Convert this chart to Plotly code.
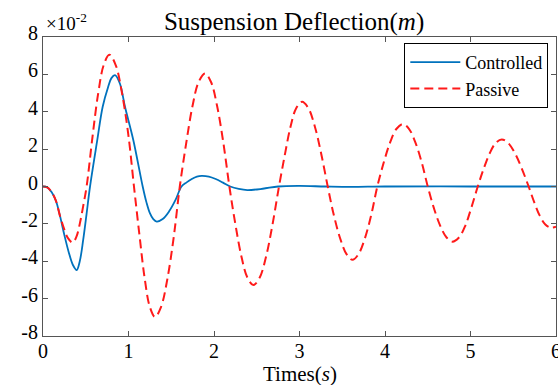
import plotly.graph_objects as go

# ---- data (values in metres, read as multiples of 1e-2) ----
passive_t = [0.00, 0.05, 0.10, 0.15, 0.20, 0.25, 0.29, 0.347, 0.39, 0.43, 0.47, 0.51, 0.58, 0.645, 0.71, 0.776,
             0.85, 0.925, 1.00, 1.064, 1.13, 1.19, 1.25, 1.31, 1.38, 1.455, 1.53, 1.60,
             1.675, 1.7475, 1.82, 1.895, 1.965, 2.0375, 2.11, 2.18, 2.25, 2.32, 2.39, 2.46,
             2.535, 2.61, 2.685, 2.76, 2.83, 2.895, 2.96, 3.03, 3.105, 3.18, 3.255, 3.33,
             3.40, 3.475, 3.55, 3.62, 3.69, 3.765, 3.84, 3.91, 3.985, 4.06, 4.135, 4.21,
             4.28, 4.355, 4.43, 4.50, 4.57, 4.645, 4.72, 4.79, 4.865, 4.94, 5.01, 5.085,
             5.155, 5.225, 5.295, 5.365, 5.44, 5.52, 5.60, 5.68, 5.745, 5.81, 5.875, 5.94, 6.00]
passive_y = [0.0, -0.05, -0.3, -0.75, -1.6, -2.3, -2.75, -3.0, -2.7, -2.0, -1.05, 0.0, 2.7, 4.97, 6.5, 7.05,
             6.5, 4.97, 2.7, 0.0, -2.67, -4.94, -6.45, -6.98, -6.45, -4.94, -2.67, 0.0,
             2.32, 4.28, 5.59, 6.05, 5.59, 4.28, 2.32, 0.0, -2.02, -3.73, -4.87, -5.27,
             -4.87, -3.73, -2.02, 0.0, 1.73, 3.2, 4.18, 4.53, 4.18, 3.2, 1.73, 0.0,
             -1.5, -2.77, -3.62, -3.92, -3.62, -2.77, -1.5, 0.0, 1.28, 2.36, 3.09, 3.34,
             3.09, 2.36, 1.28, 0.0, -1.13, -2.09, -2.73, -2.95, -2.73, -2.09, -1.13, 0.0,
             0.96, 1.78, 2.33, 2.52, 2.33, 1.78, 0.96, 0.0, -0.84, -1.56, -2.03, -2.2, -2.15]

controlled_t = [0.00, 0.05, 0.10, 0.15, 0.20, 0.25, 0.30, 0.35, 0.394, 0.43, 0.47, 0.51, 0.55, 0.635, 0.698,
                0.76, 0.80, 0.842, 0.90, 0.959, 1.056, 1.166, 1.21, 1.25, 1.29, 1.33, 1.40,
                1.475, 1.55, 1.62, 1.68, 1.74, 1.80, 1.856, 1.94, 2.02, 2.10, 2.19, 2.29, 2.39,
                2.57, 2.75, 3.0, 3.3, 3.6, 4.0, 5.0, 6.0]
controlled_y = [0.0, -0.05, -0.3, -0.75, -1.6, -2.6, -3.5, -4.2, -4.47, -4.0, -2.86, -1.45, 0.0, 2.49, 4.27,
                5.3, 5.8, 5.96, 5.5, 4.27, 2.49, 0.0, -0.85, -1.43, -1.75, -1.88, -1.74,
                -1.33, -0.72, 0.0, 0.22, 0.40, 0.53, 0.57, 0.53, 0.40, 0.22, 0.0, -0.13, -0.19,
                -0.12, 0.0, 0.03, 0.0, -0.02, 0.0, 0.0, 0.0]

y_ticks = [-0.08, -0.06, -0.04, -0.02, 0.0, 0.02, 0.04, 0.06, 0.08]
y_tick_labels = ["-8", "-6", "-4", "-2", "0", "2", "4", "6", "8"]
x_ticks = [0, 1, 2, 3, 4, 5, 6]

scale = 0.01
fig = go.Figure()
fig.add_trace(go.Scatter(
    x=controlled_t, y=[v * scale for v in controlled_y], mode="lines", name="Controlled",
    line=dict(color="#0072BD", width=1.8, shape="spline", smoothing=1.0)))
fig.add_trace(go.Scatter(
    x=passive_t, y=[v * scale for v in passive_y], mode="lines", name="Passive",
    line=dict(color="#FF1A1A", width=2, dash="9px,5px", shape="spline", smoothing=1.0)))

font_family = "Liberation Serif, Times New Roman, serif"
axis_common = dict(showline=True, linecolor="#555555", linewidth=1, mirror="allticks",
                   ticks="inside", ticklen=5, tickcolor="#555555", showgrid=False,
                   zeroline=False, automargin=False, ticklabeloverflow="allow",
                   tickfont=dict(family=font_family, size=20, color="black"))

fig.update_layout(
    width=558, height=385,
    margin=dict(l=43, r=2, t=37, b=49, autoexpand=False),
    paper_bgcolor="white", plot_bgcolor="white",
    font=dict(family=font_family, color="black"),
    title=dict(text="Suspension Deflection(<i>m</i>)", x=0.527, xanchor="center",
               xref="container", yref="container",
               y=0.945, yanchor="middle", font=dict(family=font_family, size=25, color="black")),
    xaxis=dict(range=[0, 6], tickvals=x_ticks, ticktext=[str(v) for v in x_ticks],
               ticklabelstandoff=-3, **axis_common),
    yaxis=dict(range=[-0.08, 0.08], tickvals=y_ticks, ticktext=y_tick_labels,
               ticklabelshift=-4, **axis_common),
    legend=dict(x=0.985, y=0.98, xanchor="right", yanchor="top", bgcolor="white",
                bordercolor="black", borderwidth=1, font=dict(family=font_family, size=18),
                tracegroupgap=0, itemwidth=50),
    showlegend=True,
)
fig.add_annotation(text="×10<sup>-2</sup>", xref="paper", yref="paper", x=0.0, y=1.0,
                   xanchor="left", yanchor="bottom", showarrow=False, xshift=1, yshift=1,
                   font=dict(family=font_family, size=19, color="black"))
fig.add_annotation(text="Times(<i>s</i>)", xref="paper", yref="paper", x=0.5, y=0.0,
                   xanchor="center", yanchor="middle", showarrow=False, yshift=-38,
                   font=dict(family=font_family, size=21, color="black"))

fig.write_html("out.html", config={"displayModeBar": False},
               post_script="document.body.style.margin='0';document.body.style.padding='0';")
